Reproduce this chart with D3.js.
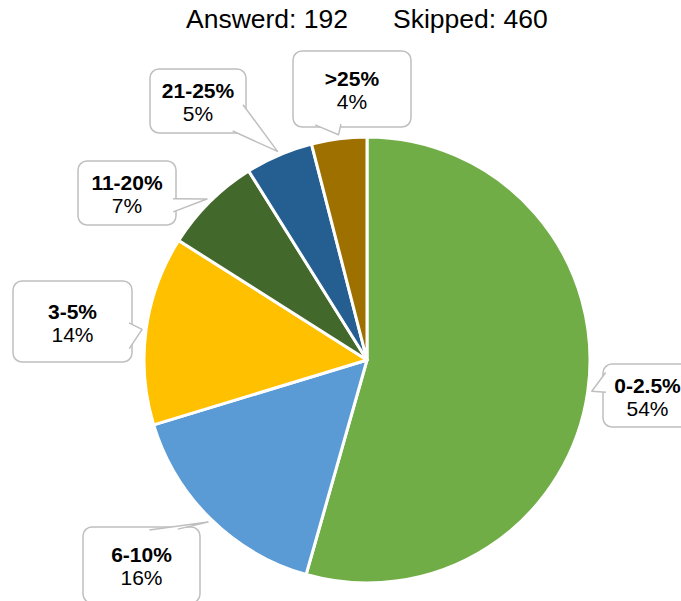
<!DOCTYPE html>
<html>
<head>
<meta charset="utf-8">
<script src="https://cdn.jsdelivr.net/npm/d3@7"></script>
<style>
  body { margin: 0; background: #fff; }
  text { font-family: "Liberation Sans", Arial, sans-serif; fill: #000; }
</style>
</head>
<body>
<svg id="chart" width="681" height="601"></svg>
<script>
const categories = ['0-2.5%', '6-10%', '3-5%', '11-20%', '21-25%', '>25%'];
// slice shares (labels show them rounded)
const shares = [54.4, 15.9, 13.7, 7.1, 4.9, 4.0];
const answered = 192;
const skipped = 460;
const colors = ['#70ad47', '#5b9bd5', '#ffc000', '#43682b', '#255e91', '#9e7000'];

// callout boxes per category: box = [x0, y0, x1, y1], base = where the pointer leaves the box
const callouts = {
  '0-2.5%': {box: [603, 364, 692, 427], base: [[603, 371], [603, 392]]},
  '6-10%':  {box: [83, 527, 200, 603], base: [[150, 527], [180, 527]]},
  '3-5%':   {box: [13, 281, 132, 362], base: [[132, 323], [132, 350]]},
  '11-20%': {box: [78, 161, 176, 225], base: [[176, 199], [176, 213]]},
  '21-25%': {box: [150, 69, 246, 133], base: [[246, 105], [235, 133]]},
  '>25%':   {box: [293, 51, 411, 127], base: [[313, 127], [340, 127]]},
};

const cx = 367, cy = 360, radius = 223;

const svg = d3.select('#chart');

svg.append('text')
  .attr('x', 186).attr('y', 28)
  .style('font-size', '26.5px')
  .text(`Answerd: ${answered}`);
svg.append('text')
  .attr('x', 393).attr('y', 28)
  .style('font-size', '26.5px')
  .text(`Skipped: ${skipped}`);

const pie = d3.pie().sort(null).value(d => d);
const arcs = pie(shares);
const arc = d3.arc().innerRadius(0).outerRadius(radius);
const tipArc = d3.arc().innerRadius(radius + 4).outerRadius(radius + 4);

const g = svg.append('g').attr('transform', `translate(${cx}, ${cy})`);

g.selectAll('path.slice')
  .data(arcs)
  .enter()
  .append('path')
  .attr('class', 'slice')
  .attr('d', arc)
  .attr('fill', (d, i) => colors[i])
  .attr('stroke', '#fff')
  .attr('stroke-width', 3)
  .attr('stroke-linejoin', 'round');

// callouts
const labels = svg.append('g');

arcs.forEach((d, i) => {
  const c = callouts[categories[i]];
  const [x0, y0, x1, y1] = c.box;
  const mx = (x0 + x1) / 2, my = (y0 + y1) / 2;
  const t = tipArc.centroid(d);
  const tip = [t[0] + cx, t[1] + cy];
  // pull base points a bit inside the box so the white wedge hides the border
  const inward = p => {
    const dx = mx - p[0], dy = my - p[1];
    const len = Math.hypot(dx, dy);
    return [p[0] + dx / len * 3, p[1] + dy / len * 3];
  };
  const b1 = inward(c.base[0]), b2 = inward(c.base[1]);

  const call = labels.append('g');
  call.append('rect')
    .attr('x', x0).attr('y', y0)
    .attr('width', x1 - x0).attr('height', y1 - y0)
    .attr('rx', 9).attr('ry', 9)
    .attr('fill', '#fff')
    .attr('stroke', '#bfbfbf')
    .attr('stroke-width', 1.5);

  call.append('path')
    .attr('d', d3.line()([b1, tip, b2]) + 'Z')
    .attr('fill', '#fff');

  call.append('path')
    .attr('d', d3.line()([b1, tip, b2]))
    .attr('fill', 'none')
    .attr('stroke', '#bfbfbf')
    .attr('stroke-width', 1.5)
    .attr('stroke-linejoin', 'round');

  call.append('text')
    .attr('x', mx).attr('y', my - 3)
    .attr('text-anchor', 'middle')
    .style('font-size', '21px')
    .style('font-weight', 'bold')
    .text(categories[i]);

  call.append('text')
    .attr('x', mx).attr('y', my + 20)
    .attr('text-anchor', 'middle')
    .style('font-size', '21px')
    .text(`${Math.round(shares[i])}%`);
});
</script>
</body>
</html>
